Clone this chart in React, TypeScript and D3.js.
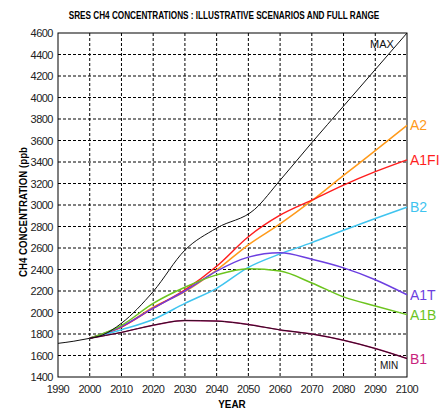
import React, { useEffect, useRef } from "react";
import * as d3 from "d3";

const years = [2000, 2010, 2020, 2030, 2040, 2050, 2060, 2070, 2080, 2090, 2100];
const historyYears = [1990, 1995, 2000];
const historyValues = [1713, 1733, 1760];

const maxYears = [2000, 2004, 2010, 2020, 2030, 2040, 2052, 2060, 2070, 2080, 2090, 2100];
const maxValues = [1760, 1790, 1900, 2195, 2580, 2785, 2960, 3230, 3580, 3920, 4260, 4600];

const a2 = [1760, 1865, 2050, 2195, 2395, 2630, 2825, 3040, 3275, 3505, 3740];
const a1fi = [1760, 1865, 2040, 2210, 2430, 2705, 2905, 3045, 3185, 3310, 3420];
const b2 = [1760, 1840, 1935, 2085, 2225, 2420, 2545, 2650, 2765, 2875, 2980];
const a1t = [1760, 1870, 2040, 2200, 2385, 2515, 2555, 2495, 2415, 2305, 2165];
const a1b = [1760, 1880, 2085, 2235, 2350, 2408, 2385, 2275, 2145, 2060, 1980];
const b1 = [1760, 1815, 1882, 1925, 1920, 1888, 1838, 1800, 1742, 1665, 1572];

const seriesNames = ["A2", "A1FI", "B2", "A1T", "A1B", "B1"];
const seriesColors = ["#ff9a1a", "#ff1e1e", "#3fc4ef", "#6c3fe0", "#6cc41e", "#c81f7c"];
const seriesValues = [a2, a1fi, b2, a1t, a1b, b1];

const xTicks = d3.range(1990, 2101, 10);
const yTicks = d3.range(1400, 4601, 200);

export default function App() {
  const ref = useRef<SVGSVGElement>(null);

  useEffect(() => {
    const svg = d3.select(ref.current);
    svg.selectAll("*").remove();
    const left = 58, right = 407, top = 33, bottom = 377;
    const X = d3.scaleLinear().domain([1990, 2100]).range([left, right]);
    const Y = d3.scaleLinear().domain([1400, 4600]).range([bottom, top]);
    const font = "Liberation Sans, Arial, sans-serif";

    svg.append("rect").attr("width", 439).attr("height", 410).attr("fill", "#fff");

    // grid
    const grid = svg.append("g").attr("stroke", "#000").attr("stroke-width", 1).attr("stroke-dasharray", "3,2");
    xTicks.slice(1, -1).forEach((t) => {
      grid.append("line").attr("x1", X(t)).attr("x2", X(t)).attr("y1", top).attr("y2", bottom);
    });
    yTicks.slice(1, -1).forEach((t) => {
      grid.append("line").attr("x1", left).attr("x2", right).attr("y1", Y(t)).attr("y2", Y(t));
    });
    svg.append("rect")
      .attr("x", left).attr("y", top).attr("width", right - left).attr("height", bottom - top)
      .attr("fill", "none").attr("stroke", "#000").attr("stroke-width", 1);

    // tick labels
    svg.append("g").selectAll("text").data(yTicks).join("text")
      .attr("x", left - 5).attr("y", (d) => Y(d) + 4)
      .attr("text-anchor", "end").attr("font-family", font).attr("font-size", 11)
      .attr("letter-spacing", -0.5).attr("fill", "#222")
      .text((d) => d);
    svg.append("g").selectAll("text").data(xTicks).join("text")
      .attr("x", (d) => X(d)).attr("y", bottom + 16)
      .attr("text-anchor", "middle").attr("font-family", font).attr("font-size", 11)
      .attr("letter-spacing", -0.5).attr("fill", "#222")
      .text((d) => d);

    const line = d3.line<[number, number]>().x((d) => X(d[0])).y((d) => Y(d[1])).curve(d3.curveMonotoneX);

    seriesValues.forEach((vals, i) => {
      svg.append("path")
        .attr("d", line(years.map((y, j) => [y, vals[j]] as [number, number])))
        .attr("fill", "none").attr("stroke", seriesColors[i]).attr("stroke-width", 1.5);
    });

    // MIN overlaps B1
    svg.append("path")
      .attr("d", line(years.map((y, j) => [y, b1[j]] as [number, number])))
      .attr("fill", "none").attr("stroke", "#2a0c1c").attr("stroke-width", 1);
    svg.append("path")
      .attr("d", line(maxYears.map((y, j) => [y, maxValues[j]] as [number, number])))
      .attr("fill", "none").attr("stroke", "#111").attr("stroke-width", 1);
    svg.append("path")
      .attr("d", line(historyYears.map((y, j) => [y, historyValues[j]] as [number, number])))
      .attr("fill", "none").attr("stroke", "#111").attr("stroke-width", 1);

    // series labels
    const labelY = [3740, 3420, 2980, 2165, 1980, 1572];
    seriesNames.forEach((n, i) => {
      svg.append("text")
        .attr("x", right + 3).attr("y", Y(labelY[i]) + 5)
        .attr("font-family", font).attr("font-size", 14).attr("fill", seriesColors[i])
        .text(n);
    });
    svg.append("text").attr("x", 370).attr("y", 48).attr("font-family", font).attr("font-size", 11)
      .attr("fill", "#111").text("MAX");
    svg.append("text").attr("x", 380).attr("y", 369).attr("font-family", font).attr("font-size", 10)
      .attr("fill", "#111").text("MIN");

    // titles
    svg.append("text").attr("transform", "translate(224,19) scale(0.82,1)").attr("text-anchor", "middle")
      .attr("font-family", font).attr("font-size", 10).attr("font-weight", "bold")
      .text("SRES CH4 CONCENTRATIONS : ILLUSTRATIVE SCENARIOS AND FULL RANGE");
    svg.append("text").attr("transform", "translate(27,212) rotate(-90) scale(0.88,1)")
      .attr("text-anchor", "middle").attr("font-family", font).attr("font-size", 11).attr("font-weight", "bold")
      .text("CH4 CONCENTRATION  (ppb");
    svg.append("text").attr("transform", "translate(232,408) scale(0.9,1)").attr("text-anchor", "middle")
      .attr("font-family", font).attr("font-size", 11).attr("font-weight", "bold")
      .text("YEAR");
  }, []);

  return <svg ref={ref} width={439} height={410} style={{ position: "absolute", left: 0, top: 0 }} />;
}
